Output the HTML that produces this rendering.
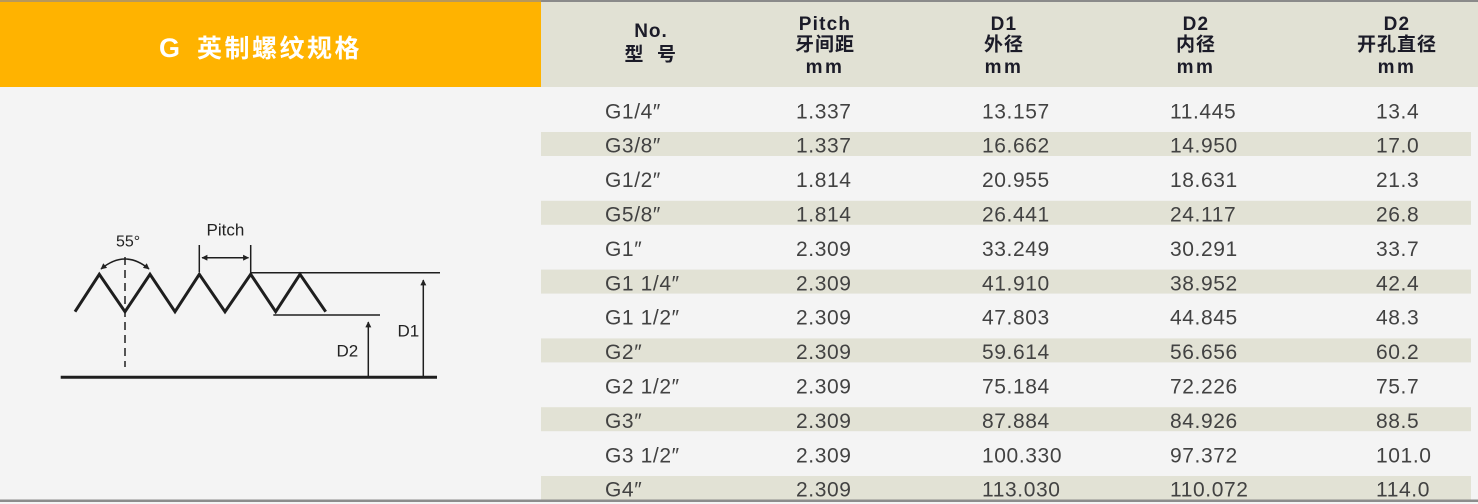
<!DOCTYPE html>
<html>
<head>
<meta charset="utf-8">
<style>
  html,body{margin:0;padding:0;background:#f4f4f4;}
  body{width:1478px;height:504px;overflow:hidden;}
  svg{display:block;}
  .hd{font-family:"Liberation Sans","Noto Sans CJK SC",sans-serif;font-weight:bold;fill:#1b1b28;text-anchor:middle;}
  .dt{font-family:"Liberation Sans","DejaVu Sans",sans-serif;font-size:21px;fill:#424242;letter-spacing:0.6px;}
  .dg{font-family:"Liberation Sans",sans-serif;fill:#222;}
</style>
</head>
<body>
<svg width="1478" height="504" viewBox="0 0 1478 504" xmlns="http://www.w3.org/2000/svg">
  <defs>
    <marker id="ah" viewBox="0 0 10 10" refX="9" refY="5" markerWidth="7" markerHeight="6" orient="auto-start-reverse" markerUnits="userSpaceOnUse">
      <path d="M0,0 L10,5 L0,10 z" fill="#222"/>
    </marker>
  </defs>

  <rect x="0" y="0" width="1478" height="504" fill="#f4f4f4"/>

  <rect x="0" y="2" width="541" height="85" fill="#ffb300"/>
  <rect x="541" y="2" width="937" height="85" fill="#e1e1d4"/>
  <rect x="0" y="0" width="541" height="2" fill="#b8985a"/>
  <rect x="541" y="0" width="937" height="2" fill="#8a8a8a"/>

  <text x="159" y="57" font-family="Liberation Sans, sans-serif" font-size="27" font-weight="bold" fill="#fff">G</text>
  <text x="197" y="57" font-family="Liberation Sans, Noto Sans CJK SC, sans-serif" font-size="25" font-weight="bold" fill="#fff" letter-spacing="2.5">英制螺纹规格</text>

  <text class="hd" x="651" y="37" font-size="19" letter-spacing="1">No.</text>
  <text class="hd" x="634" y="60.5" font-size="19">型</text>
  <text class="hd" x="666.5" y="60.5" font-size="19">号</text>

  <text class="hd" x="825" y="30" font-size="19" letter-spacing="1.2">Pitch</text>
  <text class="hd" x="825" y="50.5" font-size="19" letter-spacing="1">牙间距</text>
  <text class="hd" x="825" y="73" font-size="19" letter-spacing="2.5">mm</text>

  <text class="hd" x="1004" y="30" font-size="19" letter-spacing="1.2">D1</text>
  <text class="hd" x="1004" y="50.5" font-size="19" letter-spacing="1">外径</text>
  <text class="hd" x="1004" y="73" font-size="19" letter-spacing="2.5">mm</text>

  <text class="hd" x="1196" y="30" font-size="19" letter-spacing="1.2">D2</text>
  <text class="hd" x="1196" y="50.5" font-size="19" letter-spacing="1">内径</text>
  <text class="hd" x="1196" y="73" font-size="19" letter-spacing="2.5">mm</text>

  <text class="hd" x="1397" y="30" font-size="19" letter-spacing="1.2">D2</text>
  <text class="hd" x="1397" y="50.5" font-size="19" letter-spacing="1">开孔直径</text>
  <text class="hd" x="1397" y="73" font-size="19" letter-spacing="2.5">mm</text>

  <rect x="541" y="132" width="930" height="24" fill="#e2e2d5"/>
  <rect x="541" y="200.8" width="930" height="24" fill="#e2e2d5"/>
  <rect x="541" y="269.6" width="930" height="24" fill="#e2e2d5"/>
  <rect x="541" y="338.4" width="930" height="24" fill="#e2e2d5"/>
  <rect x="541" y="407.2" width="930" height="24" fill="#e2e2d5"/>
  <rect x="541" y="476" width="930" height="24" fill="#e2e2d5"/>

  <g class="dt">
    <text x="605" y="118.3">G1/4″</text><text x="796" y="118.3">1.337</text><text x="982" y="118.3">13.157</text><text x="1170" y="118.3">11.445</text><text x="1376" y="118.3">13.4</text>
    <text x="605" y="152.7">G3/8″</text><text x="796" y="152.7">1.337</text><text x="982" y="152.7">16.662</text><text x="1170" y="152.7">14.950</text><text x="1376" y="152.7">17.0</text>
    <text x="605" y="187.1">G1/2″</text><text x="796" y="187.1">1.814</text><text x="982" y="187.1">20.955</text><text x="1170" y="187.1">18.631</text><text x="1376" y="187.1">21.3</text>
    <text x="605" y="221.5">G5/8″</text><text x="796" y="221.5">1.814</text><text x="982" y="221.5">26.441</text><text x="1170" y="221.5">24.117</text><text x="1376" y="221.5">26.8</text>
    <text x="605" y="255.9">G1″</text><text x="796" y="255.9">2.309</text><text x="982" y="255.9">33.249</text><text x="1170" y="255.9">30.291</text><text x="1376" y="255.9">33.7</text>
    <text x="605" y="290.3">G1 1/4″</text><text x="796" y="290.3">2.309</text><text x="982" y="290.3">41.910</text><text x="1170" y="290.3">38.952</text><text x="1376" y="290.3">42.4</text>
    <text x="605" y="324.7">G1 1/2″</text><text x="796" y="324.7">2.309</text><text x="982" y="324.7">47.803</text><text x="1170" y="324.7">44.845</text><text x="1376" y="324.7">48.3</text>
    <text x="605" y="359.1">G2″</text><text x="796" y="359.1">2.309</text><text x="982" y="359.1">59.614</text><text x="1170" y="359.1">56.656</text><text x="1376" y="359.1">60.2</text>
    <text x="605" y="393.5">G2 1/2″</text><text x="796" y="393.5">2.309</text><text x="982" y="393.5">75.184</text><text x="1170" y="393.5">72.226</text><text x="1376" y="393.5">75.7</text>
    <text x="605" y="427.9">G3″</text><text x="796" y="427.9">2.309</text><text x="982" y="427.9">87.884</text><text x="1170" y="427.9">84.926</text><text x="1376" y="427.9">88.5</text>
    <text x="605" y="462.3">G3 1/2″</text><text x="796" y="462.3">2.309</text><text x="982" y="462.3">100.330</text><text x="1170" y="462.3">97.372</text><text x="1376" y="462.3">101.0</text>
    <text x="605" y="496.7">G4″</text><text x="796" y="496.7">2.309</text><text x="982" y="496.7">113.030</text><text x="1170" y="496.7">110.072</text><text x="1376" y="496.7">114.0</text>
  </g>

  <rect x="0" y="499.5" width="1478" height="2.5" fill="#8c8c8c"/>

  <g fill="none" stroke="#1e1e1e">
    <polyline points="75,311.7 99.3,274.3 125,311.7 150,274.3 175,311.7 199.3,274.3 225,311.7 250.7,274.3 275.7,311.7 300,274.3 325.7,311.7" stroke-width="3" stroke-linejoin="miter"/>
    <line x1="125" y1="257" x2="125" y2="367" stroke-width="1.5" stroke-dasharray="8,5"/>
    <path d="M101,269 Q125,249 149,269" stroke-width="1.5" marker-start="url(#ah)" marker-end="url(#ah)"/>
    <line x1="199.3" y1="245" x2="199.3" y2="272" stroke-width="1.5"/>
    <line x1="250.7" y1="245" x2="250.7" y2="274" stroke-width="1.5"/>
    <line x1="202" y1="257.7" x2="248.5" y2="257.7" stroke-width="1.5" marker-start="url(#ah)" marker-end="url(#ah)"/>
    <line x1="250.7" y1="272.7" x2="440" y2="272.7" stroke-width="1.5"/>
    <line x1="273.3" y1="315" x2="380" y2="315" stroke-width="1.5"/>
    <line x1="60.7" y1="377.3" x2="437" y2="377.3" stroke-width="3"/>
    <line x1="368.3" y1="377" x2="368.3" y2="322" stroke-width="1.5" marker-end="url(#ah)"/>
    <line x1="423.3" y1="377" x2="423.3" y2="280" stroke-width="1.5" marker-end="url(#ah)"/>
  </g>
  <text class="dg" x="116" y="246.7" font-size="16">55°</text>
  <text class="dg" x="206.5" y="235.5" font-size="17">Pitch</text>
  <text class="dg" x="336.5" y="356.7" font-size="17">D2</text>
  <text class="dg" x="397.5" y="336.7" font-size="17">D1</text>
</svg>
</body>
</html>
